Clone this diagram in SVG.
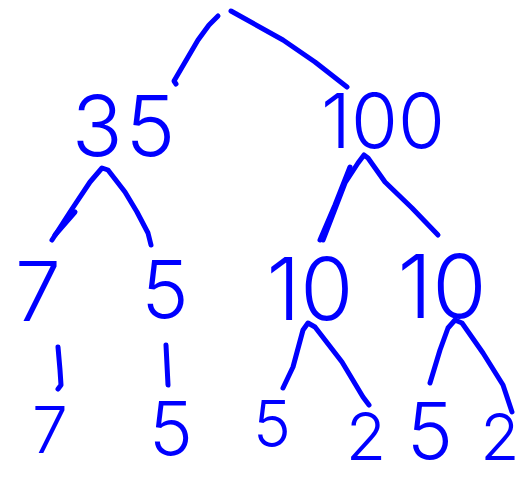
<svg xmlns="http://www.w3.org/2000/svg" width="522" height="481" viewBox="0 0 522 481">
<style>
.c{fill:none;stroke:#0000ff;stroke-width:5;stroke-linecap:round;stroke-linejoin:round}
.t{fill:#0000ff;font-family:Inter,"Liberation Sans",sans-serif;font-weight:300;text-anchor:middle}
</style>
<rect width="522" height="481" fill="#ffffff"/>
<g id="connectors">
<polyline class="c" points="218,16 209,25 198,40 174,81 176,84"/>
<polyline class="c" points="231,11 240,16 283,40 315,62 347,87"/>
<polyline class="c" points="52,240 70,212 90,182 102,168 108,170 125,192 137,212 148,233 151,245"/>
<polyline class="c" points="55,235 75,212"/>
<polyline class="c" points="320,240 335,205 350,167"/>
<polyline class="c" points="323,240 345,183 358,163 364,155 368,158 385,182 412,208 438,235"/>
<polyline class="c" points="58,347 60,370 61,385 58,389"/>
<polyline class="c" points="166,345 168,385"/>
<polyline class="c" points="283,388 293,367 303,330 308,323 315,327 342,362 363,397 369,405"/>
<polyline class="c" points="430,383 440,350 448,328 455,320 462,323 483,353 503,385 512,412"/>
</g>
<g id="n35"><text class="t" x="125" y="156" font-size="84" letter-spacing="3">35</text></g>
<g id="n100"><text class="t" x="383" y="148" font-size="76">100</text></g>
<g id="n7a"><text class="t" x="38" y="321" font-size="82">7</text></g>
<g id="n5a"><text class="t" x="165" y="318" font-size="80">5</text></g>
<g id="n10a"><text class="t" x="310" y="320" font-size="86">10</text></g>
<g id="n10b"><text class="t" x="442" y="318" font-size="88">10</text></g>
<g id="n7b"><text class="t" x="50" y="453" font-size="64">7</text></g>
<g id="n5b"><text class="t" x="171" y="455" font-size="74">5</text></g>
<g id="n5c"><text class="t" x="272" y="447" font-size="64">5</text></g>
<g id="n2a"><text class="t" x="366" y="460" font-size="66">2</text></g>
<g id="n5d"><text class="t" x="430" y="459" font-size="78">5</text></g>
<g id="n2b"><text class="t" x="500" y="460" font-size="64">2</text></g>
</svg>
